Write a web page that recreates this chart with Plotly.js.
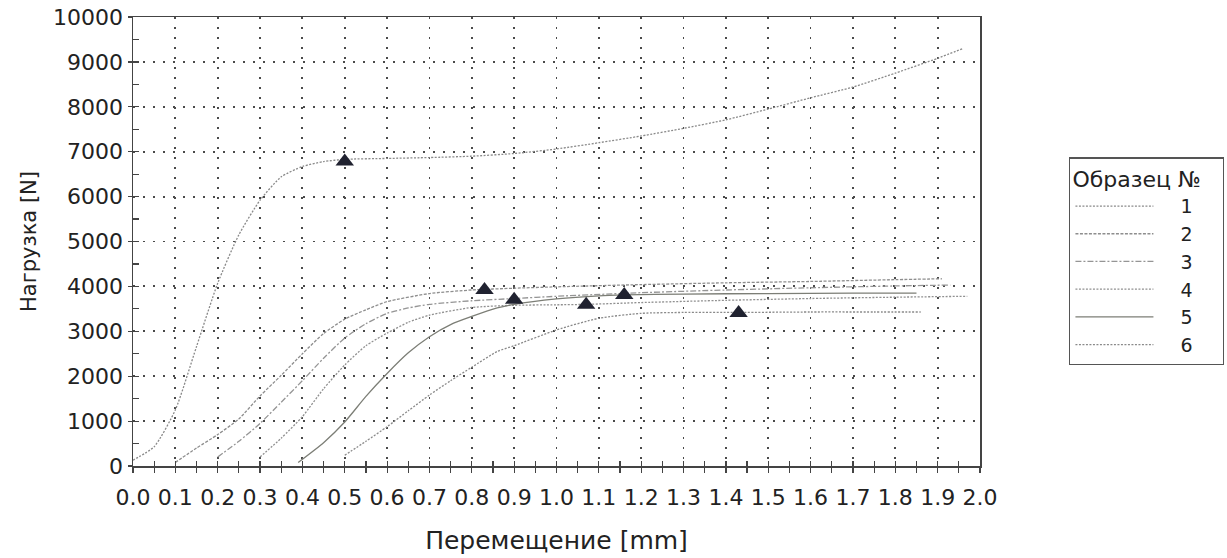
<!DOCTYPE html>
<html>
<head>
<meta charset="utf-8">
<script src="https://cdn.plot.ly/plotly-3.0.1.min.js"></script>
<style>
html,body{margin:0;padding:0;background:#fff;}
#chart{width:1227px;height:558px;}
</style>
</head>
<body>
<div id="chart"></div>
<script>
// Sample names (legend)
const sampleNames = ["1", "2", "3", "4", "5", "6"];

// Displacement [mm] / Load [N] per sample
const x1 = [0, 0.05, 0.1, 0.15, 0.2, 0.25, 0.3, 0.35, 0.4, 0.45, 0.5, 0.6, 0.7, 0.8, 0.9, 1.0, 1.1, 1.2, 1.3, 1.4, 1.5, 1.6, 1.7, 1.8, 1.9, 1.96];
const y1 = [130, 430, 1250, 2660, 4070, 5150, 5920, 6440, 6670, 6780, 6830, 6850, 6870, 6900, 6960, 7060, 7200, 7350, 7520, 7710, 7950, 8200, 8440, 8750, 9080, 9300];

const x2 = [0.1, 0.15, 0.2, 0.25, 0.3, 0.35, 0.4, 0.45, 0.5, 0.55, 0.6, 0.7, 0.8, 0.9, 1.0, 1.2, 1.4, 1.6, 1.8, 1.91];
const y2 = [80, 400, 700, 1050, 1560, 2020, 2500, 2950, 3270, 3480, 3660, 3840, 3920, 3960, 3990, 4040, 4080, 4110, 4150, 4170];

const x3 = [0.2, 0.25, 0.3, 0.35, 0.4, 0.45, 0.5, 0.55, 0.6, 0.65, 0.7, 0.8, 0.9, 1.0, 1.2, 1.4, 1.6, 1.8, 1.93];
const y3 = [200, 550, 950, 1420, 1900, 2400, 2850, 3170, 3400, 3520, 3600, 3680, 3730, 3780, 3860, 3920, 3970, 4010, 4030];

const x4 = [0.3, 0.35, 0.4, 0.45, 0.5, 0.55, 0.6, 0.65, 0.7, 0.8, 0.9, 1.0, 1.07, 1.2, 1.4, 1.6, 1.8, 1.97];
const y4 = [200, 620, 1100, 1720, 2250, 2680, 2960, 3200, 3360, 3530, 3580, 3590, 3600, 3640, 3690, 3730, 3760, 3780];

const x5 = [0.39, 0.45, 0.5, 0.55, 0.6, 0.65, 0.7, 0.75, 0.8, 0.86, 0.9, 1.0, 1.1, 1.16, 1.3, 1.5, 1.7, 1.85];
const y5 = [80, 520, 980, 1550, 2060, 2520, 2880, 3150, 3330, 3520, 3600, 3720, 3790, 3810, 3830, 3840, 3850, 3850];

const x6 = [0.5, 0.55, 0.6, 0.65, 0.7, 0.75, 0.8, 0.86, 0.9, 1.0, 1.1, 1.2, 1.3, 1.43, 1.6, 1.75, 1.86];
const y6 = [240, 550, 875, 1230, 1580, 1900, 2200, 2550, 2680, 3030, 3290, 3400, 3420, 3420, 3430, 3430, 3430];

// Marked points (triangles)
const markX = [0.50, 0.83, 0.90, 1.07, 1.16, 1.43];
const markY = [6780, 3920, 3700, 3590, 3810, 3410];

// Axis ticks
const xTicks = [0, 0.1, 0.2, 0.3, 0.4, 0.5, 0.6, 0.7, 0.8, 0.9, 1.0, 1.1, 1.2, 1.3, 1.4, 1.5, 1.6, 1.7, 1.8, 1.9, 2.0];
const xTickText = xTicks.map(v => v.toFixed(1));
const yTicks = [0, 1000, 2000, 3000, 4000, 5000, 6000, 7000, 8000, 9000, 10000];

const xs = [x1, x2, x3, x4, x5, x6];
const ys = [y1, y2, y3, y4, y5, y6];
const colors = ["#8a8a8a", "#8e8e8e", "#959595", "#909090", "#7c7e76", "#8a8a8a"];
const dashes = ["2px,1.5px", "3px,1.5px", "6px,2px,2px,2px", "2px,1.5px", "solid", "2px,1.5px"];

const FONT = "DejaVu Sans, Verdana, sans-serif";
const TXT = "#222";

const traces = xs.map((x, i) => ({
  type: "scatter",
  mode: "lines",
  x: x,
  y: ys[i],
  name: sampleNames[i],
  line: {color: colors[i], width: 1.3, dash: dashes[i], shape: "spline", smoothing: 0.6}
}));

traces.push({
  type: "scatter",
  mode: "markers",
  x: markX,
  y: markY,
  showlegend: false,
  marker: {symbol: "triangle-up", size: 16, color: "#202230", line: {width: 0}}
});

// helper trace to host the inner tick axes
traces.push({
  type: "scatter", mode: "markers", x: [null], y: [null],
  xaxis: "x2", yaxis: "y2", showlegend: false, hoverinfo: "skip"
});

const layout = {
  width: 1227,
  height: 558,
  margin: {l: 133, r: 247, t: 17, b: 92},
  paper_bgcolor: "#ffffff",
  plot_bgcolor: "#ffffff",
  font: {family: FONT, size: 20, color: TXT},
  showlegend: true,
  legend: {
    x: 1.105, y: 0.688, xanchor: "left", yanchor: "top",
    bordercolor: "#555", borderwidth: 1.5,
    bgcolor: "#ffffff",
    title: {text: "Образец №", font: {family: FONT, size: 22, color: TXT}},
    font: {family: FONT, size: 19, color: TXT},
    tracegroupgap: 0,
    itemwidth: 100
  },
  xaxis: {
    range: [0, 2.0],
    tickvals: xTicks,
    ticktext: xTickText,
    ticks: "outside", ticklen: 5, tickwidth: 1.2, tickcolor: "#444",
    minor: {dtick: 0.05, tick0: 0, ticks: "outside", ticklen: 5, tickwidth: 1.2, tickcolor: "#444", showgrid: false},
    showgrid: true, gridcolor: "#4a4a4a", gridwidth: 1.8, griddash: "2px,8px",
    showline: true, linecolor: "#444", linewidth: 1.5, mirror: true,
    zeroline: false,
    ticklabelstandoff: 6,
    tickfont: {family: FONT, size: 22, color: TXT},
    title: {text: "Перемещение [mm]", font: {family: FONT, size: 25, color: TXT}, standoff: 22},
    automargin: false
  },
  yaxis: {
    range: [0, 10000],
    tickvals: yTicks,
    tickformat: "d",
    ticks: "outside", ticklen: 4, tickwidth: 1.2, tickcolor: "#444",
    showgrid: true, gridcolor: "#4a4a4a", gridwidth: 1.8, griddash: "2px,8px",
    showline: true, linecolor: "#444", linewidth: 1.5, mirror: true,
    zeroline: false,
    tickfont: {family: FONT, size: 22, color: TXT},
    title: {text: "Нагрузка [N]", font: {family: FONT, size: 21, color: TXT}, standoff: 10},
    automargin: false
  },
  xaxis2: {
    overlaying: "x", anchor: "y", side: "bottom",
    range: [0, 2.0], dtick: 0.05, tick0: 0,
    ticks: "inside", ticklen: 5, tickwidth: 1.2, tickcolor: "#444",
    showticklabels: false, showgrid: false, showline: false, zeroline: false
  },
  yaxis2: {
    overlaying: "y", anchor: "x", side: "left",
    range: [0, 10000], dtick: 500, tick0: 0,
    ticks: "inside", ticklen: 6, tickwidth: 1.2, tickcolor: "#444",
    showticklabels: false, showgrid: false, showline: false, zeroline: false
  }
};

Plotly.newPlot("chart", traces, layout, {displayModeBar: false, staticPlot: true}).then(gd => {
  // lengthen the legend line samples to match the original legend
  gd.querySelectorAll(".legend .legendlines path").forEach(p => {
    const d = p.getAttribute("d") || "";
    if (d.indexOf("M5,0") === 0) p.setAttribute("d", "M5,0h78");
  });
  // widen the legend frame so that the title fits inside it
  const bg = gd.querySelector(".legend rect.bg");
  if (bg) bg.setAttribute("width", "154");
  gd.querySelectorAll("[id^='legend'] rect, clipPath[id*='legend'] rect").forEach(r => {
    const w = parseFloat(r.getAttribute("width") || "0");
    if (w > 0 && w < 154) r.setAttribute("width", "154");
  });
});
</script>
</body>
</html>
